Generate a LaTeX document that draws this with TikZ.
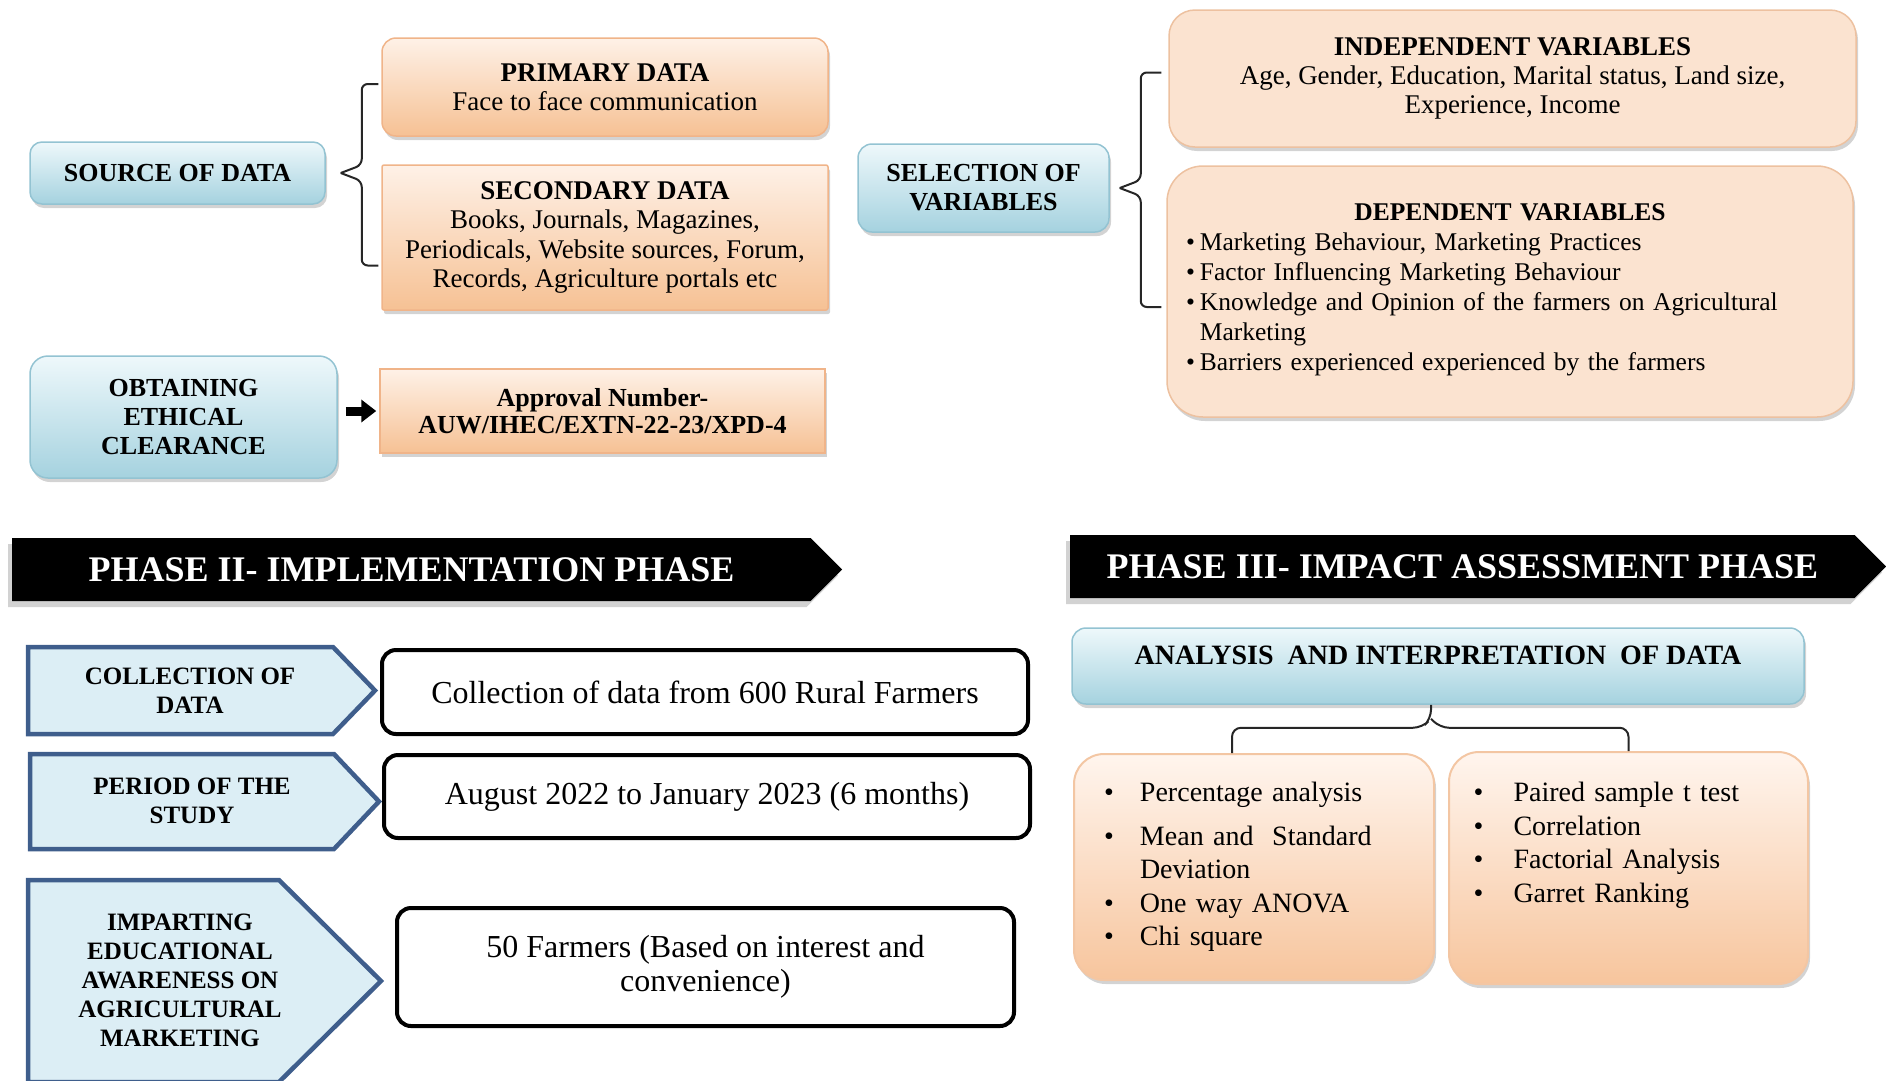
\documentclass[tikz,border=0pt]{standalone}
\usepackage{fontspec}
\setmainfont{Liberation Serif}
\usetikzlibrary{shapes.symbols, arrows.meta, positioning, calc, shadows}

\definecolor{skyTop}{HTML}{EEF8FB}
\definecolor{skyBot}{HTML}{A5D2DF}
\definecolor{skyLine}{HTML}{93C3D2}
\definecolor{peachTop}{HTML}{FEF1E7}
\definecolor{peachBot}{HTML}{F6C194}
\definecolor{peachLine}{HTML}{F0B489}
\definecolor{softFill}{HTML}{FBE3D0}
\definecolor{softLine}{HTML}{EDC1A0}
\definecolor{fadeTop}{HTML}{FFF5EE}
\definecolor{fadeBot}{HTML}{F7C59D}
\definecolor{fadeLine}{HTML}{F3C6A3}
\definecolor{stageFill}{HTML}{DCEEF5}
\definecolor{stageLine}{HTML}{3F5E8C}

\begin{document}
\begin{tikzpicture}[
    x=1pt, y=-1pt,
    boxshadow/.style={drop shadow={shadow xshift=2pt, shadow yshift=-4pt, opacity=.35}},
    skybox/.style={rectangle, rounded corners=12pt, draw=skyLine, line width=1.5pt, top color=skyTop, bottom color=skyBot, boxshadow, align=center, font=\fontsize{26}{29}\selectfont\bfseries},
    peachbox/.style={rectangle, draw=peachLine, line width=1.5pt, top color=peachTop, bottom color=peachBot, boxshadow, align=center, font=\fontsize{27}{29.5}\selectfont},
    softbox/.style={rectangle, draw=softLine, line width=1.5pt, fill=softFill, boxshadow, font=\fontsize{27}{29}\selectfont},
    fadebox/.style={rectangle, rounded corners=30pt, draw=fadeLine, line width=2pt, top color=fadeTop, bottom color=fadeBot, boxshadow, font=\fontsize{28}{33.5}\selectfont},
    stageshape/.style={draw=stageLine, line width=4.5pt, fill=stageFill},
    stagetext/.style={align=center, font=\fontsize{25}{29}\selectfont\bfseries},
    plainbox/.style={rectangle, rounded corners=14pt, draw=black, line width=4pt, fill=white, align=center, font=\fontsize{32}{34}\selectfont},
    banner/.style={signal, signal to=east, signal pointer angle=90, anchor=west, fill=black, text=white, font=\fontsize{36}{40}\selectfont\bfseries, drop shadow={shadow xshift=-4pt, shadow yshift=-6pt, fill=black!25, opacity=.7}},
    brace/.style={draw=black!85, line width=2pt},
    fatarrow/.style={-{Triangle[length=15pt,width=22pt]}, line width=9pt}
]
\useasboundingbox (0,0) rectangle (1886,1080);

% phase I: sources
\node[skybox, minimum width=295pt, minimum height=62pt] (src) at (177.5,173) {SOURCE OF DATA};
\node[peachbox, rounded corners=14pt, minimum width=446pt, minimum height=98pt] (prim) at (605,87) {\textbf{PRIMARY DATA}\\Face to face communication};
\node[peachbox, rounded corners=2pt, minimum width=446pt, minimum height=145pt] (sec) at (605,237.5) {\textbf{SECONDARY DATA}\\Books, Journals, Magazines,\\Periodicals, Website sources, Forum,\\Records, Agriculture portals etc};
\node[skybox, rounded corners=18pt, minimum width=307pt, minimum height=122pt] (eth) at (183.5,417) {OBTAINING\\ETHICAL\\CLEARANCE};
\node[peachbox, minimum width=445pt, minimum height=84pt, font=\fontsize{26}{27}\selectfont\bfseries] (appr) at (602.5,411) {Approval Number-\\AUW/IHEC/EXTN-22-23/XPD-4};

\coordinate (s1) at ($(src.east)+(15,0)$);
\draw[brace, rounded corners=6pt] ($(prim.west)+(-3,-3)$) -| ($(s1)+(21,-8)$) -- (s1);
\draw[brace, rounded corners=6pt] ($(sec.west)+(-3,28)$) -| ($(s1)+(21,8)$) -- (s1);
\draw[fatarrow] ($(eth.east |- appr.west)+(8,0)$) -- ($(appr.west)+(-3,0)$);

% phase I: variables
\node[skybox, rounded corners=14pt, minimum width=251pt, minimum height=88pt] (sel) at (983.5,188) {SELECTION OF\\VARIABLES};
\node[softbox, rounded corners=26pt, align=center, minimum width=687pt, minimum height=137pt] (indep) at (1512.5,78.5) {\textbf{INDEPENDENT VARIABLES}\\Age, Gender, Education, Marital status, Land size,\\Experience, Income};
\node[softbox, rounded corners=36pt, minimum width=686pt, minimum height=251pt, text width=648pt, font=\fontsize{25.5}{30}\selectfont] (dep) at (1510,291.5) {%
  {\centering\textbf{DEPENDENT VARIABLES}\par}
  \begin{tabular}[t]{@{}l@{\hspace{5pt}}l@{}}
  \textbullet & Marketing Behaviour, Marketing Practices\\
  \textbullet & Factor Influencing Marketing Behaviour\\
  \textbullet & Knowledge and Opinion of the farmers on Agricultural\\
              & Marketing\\
  \textbullet & Barriers experienced experienced by the farmers
  \end{tabular}};

\coordinate (s2) at ($(sel.east)+(10,0)$);
\draw[brace, rounded corners=6pt] ($(indep.west)+(-7,-6)$) -| ($(s2)+(21,-8)$) -- (s2);
\draw[brace, rounded corners=6pt] ($(dep.west)+(-5,15.5)$) -| ($(s2)+(21,8)$) -- (s2);

% phase II
\node[banner, minimum width=830pt, minimum height=63pt] (ph2) at (12,569.5) {PHASE II- IMPLEMENTATION PHASE};
\draw[stageshape] (28,647) -- (333,647) -- (375,690.5) -- (333,734) -- (28,734) -- cycle;
\draw[stageshape] (30,754) -- (334,754) -- (379,801.5) -- (334,849) -- (30,849) -- cycle;
\draw[stageshape] (28,880) -- (279,880) -- (381,981) -- (279,1082) -- (28,1082) -- cycle;
\node[stagetext] (coll) at (190,690.5) {COLLECTION OF\\DATA};
\node[stagetext] (per) at (192,801) {PERIOD OF THE\\STUDY};
\node[stagetext] (imp) at (180,980) {IMPARTING\\EDUCATIONAL\\AWARENESS ON\\AGRICULTURAL\\MARKETING};
\node[plainbox, minimum width=646pt, minimum height=84pt] (collbox) at (705,692) {Collection of data from 600 Rural Farmers};
\node[plainbox, minimum width=646pt, minimum height=83pt] (perbox) at (707,796.5) {August 2022 to January 2023 (6 months)};
\node[plainbox, minimum width=617pt, minimum height=118pt] (impbox) at (705.5,967) {50 Farmers (Based on interest and\\convenience)};

% phase III
\node[banner, minimum width=816pt, minimum height=63pt] (ph3) at (1070,566.5) {PHASE III- IMPACT ASSESSMENT PHASE};
\node[skybox, rounded corners=14pt, minimum width=732pt, minimum height=76pt, text depth=21pt, font=\fontsize{28}{30}\selectfont\bfseries] (anal) at (1438,666) {ANALYSIS\ \ AND INTERPRETATION\ \ OF DATA};
\node[fadebox, minimum width=360pt, minimum height=226pt, text width=300pt] (anl) at (1254,867) {%
  \begin{tabular}[t]{@{}p{36pt}@{}l@{}}
  \textbullet & Percentage analysis\\[10pt]
  \textbullet & Mean and\ \ Standard\\
              & Deviation\\
  \textbullet & One way ANOVA\\
  \textbullet & Chi square
  \end{tabular}};
\node[fadebox, minimum width=359pt, minimum height=232pt, text width=310pt] (anr) at (1628.5,868) {%
  \begin{tabular}[t]{@{}p{40pt}@{}l@{}}
  \textbullet & Paired sample t test\\
  \textbullet & Correlation\\
  \textbullet & Factorial Analysis\\
  \textbullet & Garret Ranking\\[12pt]
  &
  \end{tabular}};

\coordinate (pk) at ($(anal.south)+(-7,0)$);
\draw[brace, rounded corners=9pt] ($(anl.north)+(-22,0)$) |- ($(pk)+(-9,23)$) -- ($(pk)+(0,14)$) -- (pk);
\draw[brace, rounded corners=9pt] (anr.north) |- ($(pk)+(9,23)$) -- ($(pk)+(0,14)$);
\end{tikzpicture}
\end{document}
